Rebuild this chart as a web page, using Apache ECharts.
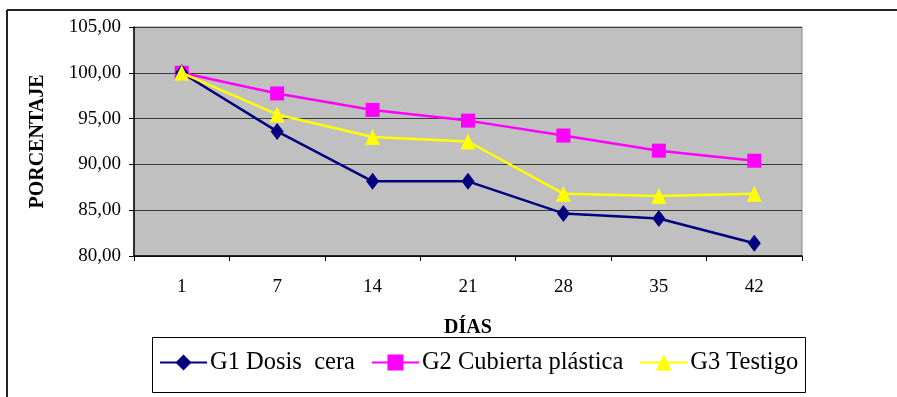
<!DOCTYPE html>
<html>
<head>
<meta charset="utf-8">
<script src="https://cdn.jsdelivr.net/npm/echarts@6/dist/echarts.min.js"></script>
<style>
html,body{margin:0;padding:0;background:#fff;}
#c{width:897px;height:397px;}
</style>
</head>
<body>
<div id="c"></div>
<script>
var days = ['1', '7', '14', '21', '28', '35', '42'];
var g1Name = 'G1 Dosis  cera';
var g2Name = 'G2 Cubierta plástica';
var g3Name = 'G3 Testigo';
var g1 = [100, 93.6, 88.15, 88.15, 84.65, 84.1, 81.4];
var g2 = [100, 97.75, 95.95, 94.78, 93.15, 91.5, 90.4];
var g3 = [100, 95.45, 93.0, 92.5, 86.8, 86.55, 86.8];
var yTitle = 'PORCENTAJE';
var xTitle = 'DÍAS';

var FONT = 'Liberation Serif';
var chart = echarts.init(document.getElementById('c'), null, {renderer: 'canvas'});

function fmt(v) { return v.toFixed(2).replace('.', ','); }

chart.setOption({
  animation: false,
  backgroundColor: '#ffffff',
  textStyle: {fontFamily: FONT, color: '#000'},
  grid: {left: 134, top: 27, right: 95, bottom: 141, show: true,
         backgroundColor: '#c0c0c0', borderColor: '#888888', borderWidth: 1},
  graphic: [
    {type: 'line', shape: {x1: 7, y1: 10, x2: 897, y2: 10}, style: {stroke: '#222', lineWidth: 2}},
    {type: 'line', shape: {x1: 7, y1: 10, x2: 7, y2: 397}, style: {stroke: '#222', lineWidth: 2}},
    {type: 'rect', shape: {x: 152.5, y: 337.5, width: 653, height: 55}, style: {fill: 'none', stroke: '#000', lineWidth: 1}, z: 0}
  ],
  legend: {
    left: 159, top: 350, itemWidth: 47, itemHeight: 20, itemGap: 16,
    padding: 0,
    textStyle: {fontFamily: FONT, fontSize: 24.5, color: '#000', padding: [0, 0, 0, -2]},
    data: [g1Name, g2Name, g3Name]
  },
  xAxis: {
    type: 'category', data: days, boundaryGap: true,
    name: xTitle, nameLocation: 'middle', nameGap: 62,
    nameTextStyle: {fontFamily: FONT, fontSize: 20, fontWeight: 'bold', color: '#000'},
    axisLine: {lineStyle: {color: '#000', width: 1.5}},
    axisTick: {show: true, inside: false, length: 5, alignWithLabel: false, lineStyle: {color: '#000'}},
    axisLabel: {fontFamily: FONT, fontSize: 19, color: '#000', margin: 22},
    splitLine: {show: false}
  },
  yAxis: {
    type: 'value', min: 80, max: 105, interval: 5,
    name: yTitle, nameLocation: 'middle', nameGap: 86, nameRotate: 90,
    nameTextStyle: {fontFamily: FONT, fontSize: 20, fontWeight: 'bold', color: '#000'},
    axisLine: {show: true, lineStyle: {color: '#000', width: 1.5}},
    axisTick: {show: true, inside: false, length: 5, lineStyle: {color: '#000'}},
    axisLabel: {fontFamily: FONT, fontSize: 19, color: '#000', margin: 13, formatter: fmt},
    splitLine: {show: true, lineStyle: {color: '#3a3a3a', width: 1}}
  },
  series: [
    {name: g1Name, type: 'line', data: g1, symbol: 'diamond', symbolSize: [13, 17],
     itemStyle: {color: '#000080'}, lineStyle: {color: '#000080', width: 2.5}, z: 3},
    {name: g2Name, type: 'line', data: g2, symbol: 'rect', symbolSize: 14,
     itemStyle: {color: '#ff00ff'}, lineStyle: {color: '#ff00ff', width: 2.5}, z: 2},
    {name: g3Name, type: 'line', data: g3, symbol: 'triangle', symbolSize: [15, 16],
     itemStyle: {color: '#ffff00'}, lineStyle: {color: '#ffff00', width: 2.5}, z: 4}
  ]
});
</script>
</body>
</html>
